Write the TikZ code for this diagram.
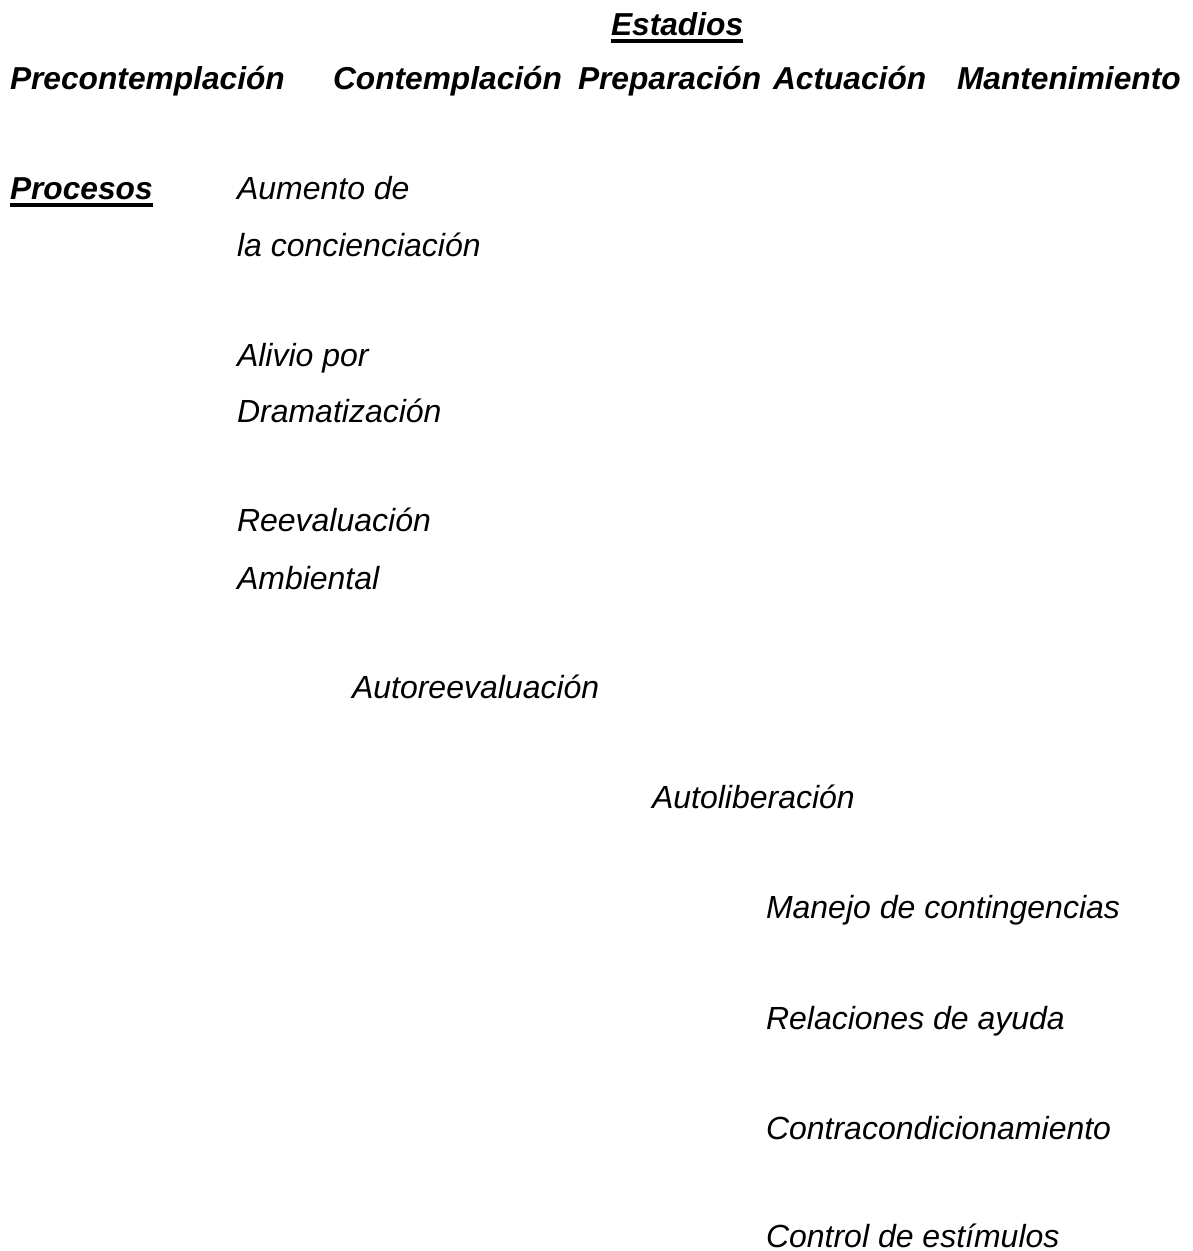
\documentclass[tikz,border=0pt]{standalone}
\usepackage{fontspec}
\setmainfont{Liberation Sans}
\begin{document}
\begin{tikzpicture}[x=1pt,y=-1pt,
  every node/.style={inner sep=0pt,outer sep=0pt,anchor=base west,
    font=\fontsize{32}{38}\selectfont\itshape},
  head/.style={font=\fontsize{31.7}{38}\selectfont\bfseries\itshape},
  proc/.style={},
  uline/.style={line width=3.4pt}]
\useasboundingbox (0,0) rectangle (1193,1251);

% title of the stages row
\node[head] (est) at (611,35) {Estadios};
\draw[uline] ([yshift=-6pt]est.base west) -- ([yshift=-6pt]est.base east);

% stages
\node[head] (s1) at (10,89)  {Precontemplación};
\node[head] (s2) at (333,89) {Contemplación};
\node[head] (s3) at (578,89) {Preparación};
\node[head] (s4) at (773,89) {Actuación};
\node[head] (s5) at (957,89) {Mantenimiento};

% processes heading
\node[head] (pro) at (10,199) {Procesos};
\draw[uline] ([yshift=-6pt]pro.base west) -- ([yshift=-6pt]pro.base east);

% processes
\node[proc] (p1a) at (237,199)   {Aumento de};
\node[proc] (p1b) at (237,256.5) {la concienciación};
\node[proc] (p2a) at (237,366)   {Alivio por};
\node[proc] (p2b) at (237,422)   {Dramatización};
\node[proc] (p3a) at (237,531)   {Reevaluación};
\node[proc] (p3b) at (237,589)   {Ambiental};
\node[proc] (p4)  at (352,698)   {Autoreevaluación};
\node[proc] (p5)  at (652,808)   {Autoliberación};
\node[proc] (p6)  at (766,918)   {Manejo de contingencias};
\node[proc] (p7)  at (766,1029)  {Relaciones de ayuda};
\node[proc] (p8)  at (766,1139)  {Contracondicionamiento};
\node[proc] (p9)  at (766,1247)  {Control de estímulos};
\end{tikzpicture}
\end{document}
